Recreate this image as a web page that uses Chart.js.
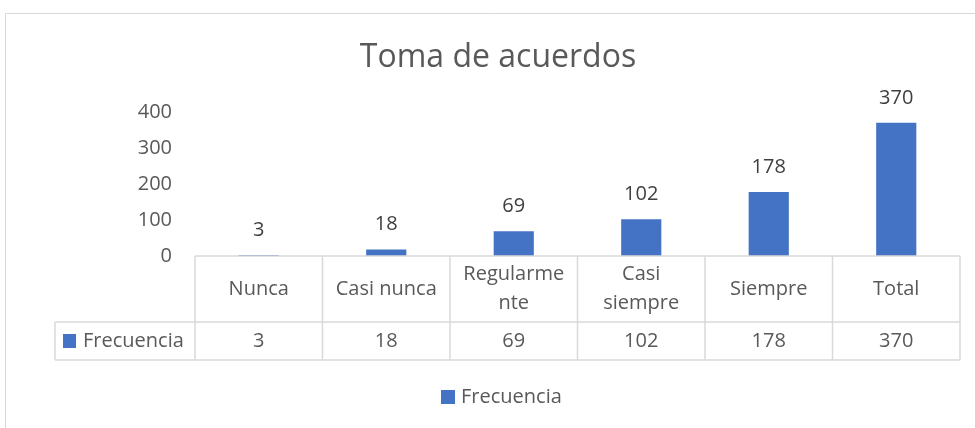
<!DOCTYPE html>
<html>
<head>
<meta charset="utf-8">
<script src="https://cdn.jsdelivr.net/npm/chart.js@4.4.1/dist/chart.umd.min.js"></script>
<style>
  html, body { margin: 0; padding: 0; background: #fff; }
  #wrap { position: relative; width: 975px; height: 428px; }
</style>
</head>
<body>
<div id="wrap"><canvas id="chart" width="975" height="428"></canvas></div>
<script>
// --- Datos ---
const chartTitle = 'Toma de acuerdos';
const seriesName = 'Frecuencia';
const categories = ['Nunca', 'Casi nunca', 'Regularmente', 'Casi siempre', 'Siempre', 'Total'];
// encabezados de la tabla tal como se cortan en la imagen
const tableHeaders = [['Nunca'], ['Casi nunca'], ['Regularme', 'nte'], ['Casi', 'siempre'], ['Siempre'], ['Total']];
const frecuencia = [3, 18, 69, 102, 178, 370];
const yTicks = [0, 100, 200, 300, 400];

const FONT = '"Open Sans", "Liberation Sans", sans-serif';
const BAR = '#4472c4';
const GRID = '#d9d9d9';
const TXT = '#595959';

// tabla de datos + leyenda + marco, estilo Excel
const excelExtras = {
    id: 'excelExtras',
    beforeDraw(chart) {
        const ctx = chart.ctx;
        ctx.save();
        ctx.strokeStyle = GRID;
        ctx.lineWidth = 1;
        ctx.beginPath();
        ctx.moveTo(5.5, chart.height);
        ctx.lineTo(5.5, 13.5);
        ctx.lineTo(chart.width, 13.5);
        ctx.stroke();
        ctx.restore();
    },
    afterDraw(chart) {
        const ctx = chart.ctx;
        const area = chart.chartArea;
        const xs = chart.scales.x;
        const colW = xs.width / categories.length;
        const rowTop = area.bottom;
        const rowMid = rowTop + 66;
        const rowBot = rowMid + 38;
        const legendLeft = area.left - 140;

        ctx.save();
        // rejilla de la tabla
        ctx.strokeStyle = GRID;
        ctx.lineWidth = 1.5;
        ctx.beginPath();
        ctx.moveTo(area.left, rowTop); ctx.lineTo(area.right, rowTop);
        ctx.moveTo(legendLeft, rowMid); ctx.lineTo(area.right, rowMid);
        ctx.moveTo(legendLeft, rowBot); ctx.lineTo(area.right, rowBot);
        ctx.moveTo(legendLeft, rowMid); ctx.lineTo(legendLeft, rowBot);
        for (let i = 0; i <= categories.length; i++) {
            const cx = xs.getPixelForValue(i) - colW / 2;
            ctx.moveTo(cx, rowTop); ctx.lineTo(cx, rowBot);
        }
        ctx.stroke();

        ctx.font = '20px ' + FONT;
        ctx.fillStyle = TXT;
        ctx.textAlign = 'center';
        ctx.textBaseline = 'middle';
        const lineH = 29;
        tableHeaders.forEach((lines, i) => {
            const cx = xs.getPixelForValue(i);
            const cy = (rowTop + rowMid) / 2;
            const y0 = cy - (lines.length - 1) * lineH / 2;
            lines.forEach((l, j) => ctx.fillText(l, cx, y0 + j * lineH));
        });
        frecuencia.forEach((v, i) => {
            ctx.fillText(String(v), xs.getPixelForValue(i), (rowMid + rowBot) / 2);
        });

        // clave de la serie en la tabla
        ctx.fillStyle = BAR;
        ctx.fillRect(legendLeft + 8, (rowMid + rowBot) / 2 - 7, 13, 14);
        ctx.fillStyle = TXT;
        ctx.textAlign = 'left';
        ctx.fillText(seriesName, legendLeft + 28, (rowMid + rowBot) / 2);

        // etiquetas de datos
        ctx.fillStyle = '#404040';
        ctx.textAlign = 'center';
        chart.getDatasetMeta(0).data.forEach((bar, i) => {
            ctx.fillText(String(frecuencia[i]), bar.x, bar.y - 25);
        });

        // leyenda inferior
        ctx.fillStyle = BAR;
        ctx.fillRect(441, 390, 14, 14);
        ctx.fillStyle = TXT;
        ctx.textAlign = 'left';
        ctx.fillText(seriesName, 461, 397);
        ctx.restore();
    }
};

const chartEl = document.getElementById('chart');
if (chartEl) {
    new Chart(chartEl, {
        type: 'bar',
        data: {
            labels: categories,
            datasets: [{
                label: seriesName,
                data: frecuencia,
                backgroundColor: BAR,
                borderWidth: 0,
                categoryPercentage: 1,
                barPercentage: 0.315
            }]
        },
        options: {
            responsive: false,
            animation: false,
            maintainAspectRatio: false,
            layout: { padding: { left: 36, right: 15, top: 0, bottom: 172 } },
            scales: {
                x: { display: false },
                y: {
                    min: yTicks[0],
                    max: yTicks[yTicks.length - 1],
                    afterBuildTicks: (scale) => { scale.ticks = yTicks.map(v => ({ value: v })); },
                    afterFit: (scale) => { scale.width = 159; },
                    grid: { display: false, drawTicks: false },
                    border: { display: false },
                    ticks: { padding: 23, color: TXT, font: { family: FONT, size: 20 } }
                }
            },
            plugins: {
                legend: { display: false },
                tooltip: { enabled: false },
                title: {
                    display: true,
                    text: chartTitle,
                    color: TXT,
                    font: { family: FONT, size: 32, weight: 'normal', lineHeight: 1.2 },
                    padding: { top: 39, bottom: 34.6 }
                }
            }
        },
        plugins: [excelExtras]
    });
}
</script>
</body>
</html>
